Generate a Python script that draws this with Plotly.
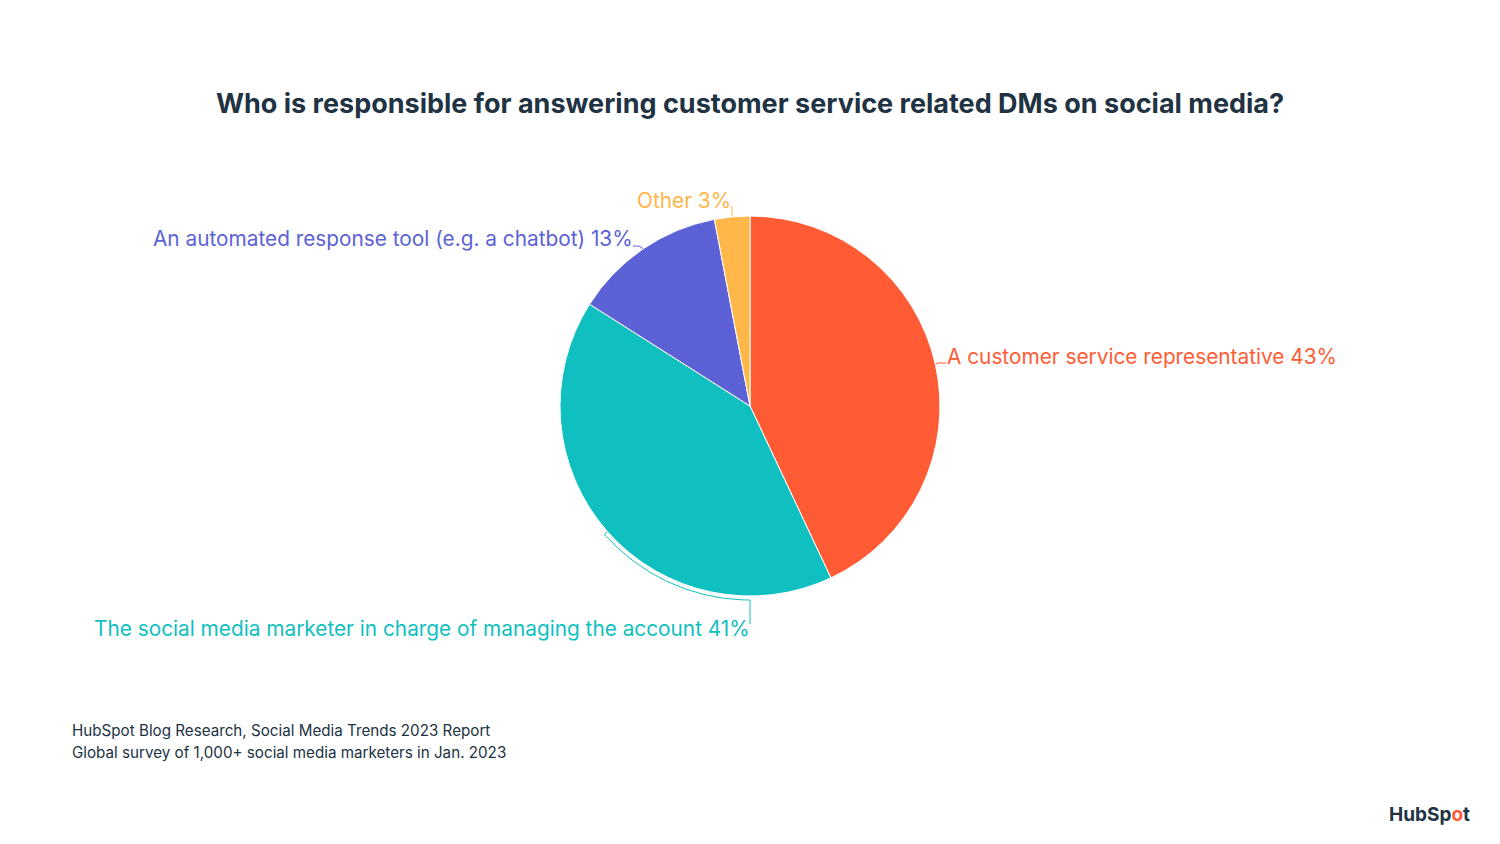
import numpy as np
import plotly.graph_objects as go

# ---- data ----
categories = [
    "A customer service representative",
    "The social media marketer in charge of managing the account",
    "An automated response tool (e.g. a chatbot)",
    "Other",
]
values = [43, 41, 13, 3]
colors = ["#FF5C35", "#10BFBF", "#5C62D6", "#FFB74A"]

title = "Who is responsible for answering customer service related DMs on social media?"
source_lines = [
    "HubSpot Blog Research, Social Media Trends 2023 Report",
    "Global survey of 1,000+ social media marketers in Jan. 2023",
]

W, H = 1500, 844
CX, CY, R = 750, 406, 190
FONT = "Inter"

fig = go.Figure()

fig.add_trace(go.Pie(
    labels=categories, values=values, sort=False, direction="clockwise",
    rotation=0, marker=dict(colors=colors, line=dict(color="white", width=1)),
    textinfo="none", hoverinfo="label+percent", showlegend=False,
    domain=dict(x=[0, 1], y=[(H - CY - R) / H, (H - CY + R) / H]),
))

# angles (clockwise from 12 o'clock) of slice midpoints
total = sum(values)
cum = np.cumsum([0] + values) / total * 360
mids = [(cum[i] + cum[i + 1]) / 2 for i in range(len(values))]


def pt(angle, r):
    a = np.radians(angle)
    return CX + r * np.sin(a), CY - r * np.cos(a)


# label anchors (layout) : (x, y, xanchor)
anchors = [(946, 356, "left"), (751, 628, "right"), (634, 238, "right"), (732, 200, "right")]

for i, (cat, v, c) in enumerate(zip(categories, values, colors)):
    ax_, ay_, xa = anchors[i]
    sx, sy = pt(mids[i], R)
    if i == 1:
        # curved connector following the arc down to 6 o'clock, then down to label
        angs = np.linspace(mids[i], 180, 60)
        xs = [sx] + [pt(a, R + 4)[0] for a in angs] + [CX]
        ys = [sy] + [pt(a, R + 4)[1] for a in angs] + [ay_ - 4]
    elif i == 0:
        xs, ys = [sx, ax_ - 8, ax_], [sy, ay_ + 7, ay_ + 7]
    elif i == 2:
        xs, ys = [sx, ax_ + 5, ax_ - 1], [sy, ay_ + 8, ay_ + 8]
    else:
        xs, ys = [sx, ax_], [sy, ay_ + 6]
    fig.add_trace(go.Scatter(x=xs, y=ys, mode="lines", line=dict(color=c, width=1),
                             hoverinfo="skip", showlegend=False))
    fig.add_annotation(x=ax_, y=ay_, xref="x", yref="y", text=f"{cat} {v}%",
                       showarrow=False, xanchor=xa, yanchor="middle", borderpad=0,
                       font=dict(family=FONT, size=20.8, color=c))

fig.add_annotation(x=750, y=103, xref="x", yref="y", text=f"<b>{title}</b>", showarrow=False,
                   xanchor="center", yanchor="middle",
                   font=dict(family=FONT, size=27, color="#213343"))
for k, line in enumerate(source_lines):
    fig.add_annotation(x=71, y=730 + 22 * k, xref="x", yref="y", text=line, showarrow=False,
                       xanchor="left", yanchor="middle", borderpad=0,
                       font=dict(family=FONT, size=15.2, color="#213343"))
fig.add_annotation(x=1471, y=814, xref="x", yref="y",
                   text="<b>HubSp<span style='color:#FF5C35'>o</span>t</b>", showarrow=False,
                   xanchor="right", yanchor="middle", borderpad=0,
                   font=dict(family=FONT, size=19, color="#213343"))

fig.update_layout(
    width=W, height=H, margin=dict(l=0, r=0, t=0, b=0),
    paper_bgcolor="white", plot_bgcolor="white",
    xaxis=dict(range=[0, W], visible=False, fixedrange=True),
    yaxis=dict(range=[H, 0], visible=False, fixedrange=True),
)

fig.write_html("out.html")
